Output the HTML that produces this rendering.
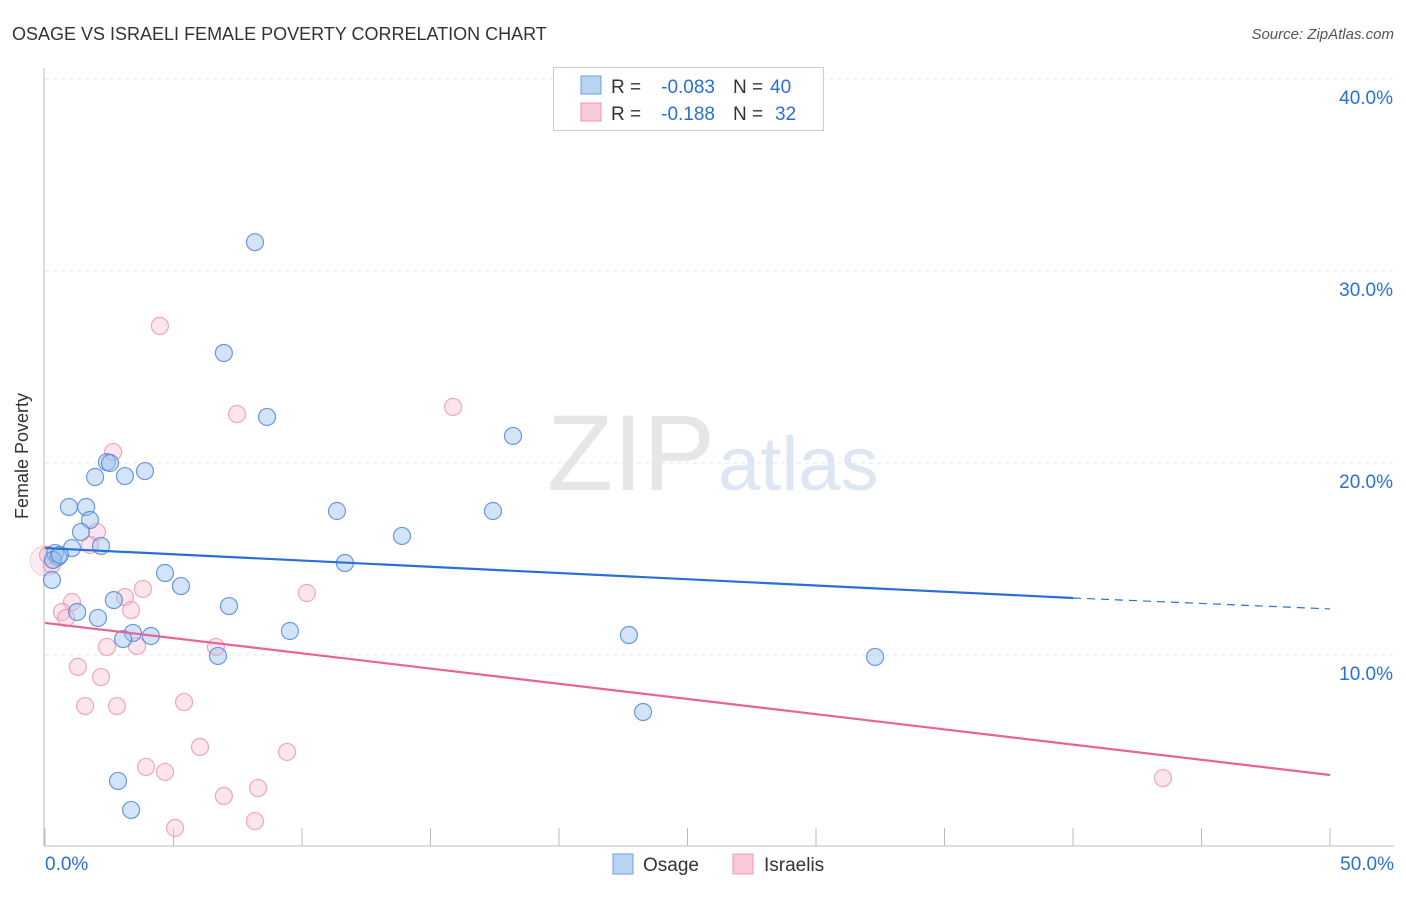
<!DOCTYPE html>
<html><head><meta charset="utf-8"><style>
body{margin:0;background:#fff;font-family:"Liberation Sans",sans-serif}
svg text{font-family:"Liberation Sans",sans-serif}
</style></head><body>
<svg id="chart" width="1406" height="892" xmlns="http://www.w3.org/2000/svg">
<text x="12" y="40" font-size="18" fill="#333">OSAGE VS ISRAELI FEMALE POVERTY CORRELATION CHART</text>
<text x="1394" y="39" font-size="15" fill="#555" text-anchor="end" font-style="italic">Source: ZipAtlas.com</text>
<g id="grid"></g>
<text x="715" y="490" font-size="108" fill="#e6e6e6" text-anchor="end" font-family="Liberation Serif">ZIP</text>
<text x="718" y="490" font-size="76" fill="#dde7f4">atlas</text>
<line x1="44" y1="68" x2="44" y2="846" stroke="#bbb"/>
<line x1="44" y1="846" x2="1394" y2="846" stroke="#bbb"/>
<text x="28" y="456" font-size="18" fill="#333" text-anchor="middle" transform="rotate(-90 28 456)">Female Poverty</text>
<g id="marks"></g>
<g>
<rect x="553.5" y="67.5" width="270" height="63" fill="#fff" stroke="#ccc"/>
<rect x="581" y="76" width="20" height="18" fill="#b9d3f3" stroke="#6e9fe0"/>
<rect x="581" y="103" width="20" height="18" fill="#f9c9d8" stroke="#eb96b1"/>
<text x="611" y="93" font-size="19" fill="#333">R =</text>
<text x="715" y="93" font-size="19" fill="#2a6fd6" text-anchor="end">-0.083</text>
<text x="733" y="93" font-size="19" fill="#333">N =</text>
<text x="770" y="93" font-size="19" fill="#2a6fd6">40</text>
<text x="611" y="120" font-size="19" fill="#333">R =</text>
<text x="715" y="120" font-size="19" fill="#2a6fd6" text-anchor="end">-0.188</text>
<text x="733" y="120" font-size="19" fill="#333">N =</text>
<text x="775" y="120" font-size="19" fill="#2a6fd6">32</text>
</g>
<g>
<rect x="613" y="854" width="20" height="20" fill="#b9d3f3" stroke="#6e9fe0"/>
<text x="643" y="871" font-size="19" fill="#333">Osage</text>
<rect x="733" y="854" width="20" height="20" fill="#f9c9d8" stroke="#eb96b1"/>
<text x="764" y="871" font-size="19" fill="#333">Israelis</text>
</g>
</svg>
<script>
const yTicks=[10,20,30,40];
const yTickLabels=["10.0%","20.0%","30.0%","40.0%"];
const xTicks=[0,5,10,15,20,25,30,35,40,45,50];
const osageX=[8.17,6.96,8.64,18.21,2.41,2.53,3.89,3.11,1.95,0.93,1.60,1.75,1.40,11.36,17.43,13.89,2.18,1.05,0.39,0.51,11.67,0.27,4.67,5.29,2.68,7.16,1.25,2.06,3.42,4.12,3.04,9.53,22.72,6.73,32.30,23.27,2.84,3.35,0.31,0.58];
const osageY=[31.5,25.73,22.4,21.41,20.05,20.0,19.58,19.32,19.27,17.71,17.71,17.03,16.41,17.5,17.5,16.2,15.68,15.57,15.31,15.1,14.79,13.91,14.27,13.59,12.86,12.55,12.24,11.93,11.15,10.99,10.83,11.25,11.04,9.95,9.9,7.03,3.44,1.93,14.95,15.21];
const israeliX=[4.47,7.47,15.88,2.65,2.02,1.75,0.12,0.27,1.05,0.66,0.82,3.11,3.35,3.81,10.19,2.41,3.58,6.65,1.28,2.18,1.56,2.8,5.41,6.03,9.42,3.93,4.67,6.96,8.29,8.17,5.06,43.5];
const israeliY=[27.14,22.55,22.92,20.57,16.41,15.73,15.21,14.69,12.76,12.24,11.93,13.02,12.34,13.44,13.23,10.42,10.47,10.42,9.38,8.85,7.34,7.34,7.55,5.21,4.95,4.17,3.91,2.66,3.07,1.35,0.99,3.59];
const osageTrend=[15.57,12.97,12.4];
const israeliTrend=[11.67,3.75];
const NS="http://www.w3.org/2000/svg";
const sx=v=>45+v*25.7, sy=v=>847-v*19.2;
function mk(t,a,p){const e=document.createElementNS(NS,t);for(const k in a)e.setAttribute(k,a[k]);p.appendChild(e);return e;}
const grid=document.getElementById('grid'), marks=document.getElementById('marks');
yTicks.forEach((v,i)=>{
 const l=mk('line',{x1:45,x2:1394,y1:sy(v),y2:sy(v),stroke:'#e4e4e4','stroke-dasharray':'4,4'},grid);
 
 
 const t=mk('text',{x:1393,y:sy(v)+25,'font-size':19,fill:'#2a6fd6','text-anchor':'end'},grid);
 t.textContent=yTickLabels[i];
 
 
});
xTicks.forEach(v=>{
 const l=mk('line',{x1:sx(v),x2:sx(v),y1:828,y2:846,stroke:'#bbb'},grid);
 
 
});
[[0,"0.0%",'start',45],[50,"50.0%",'end',1394]].forEach(d=>{
 const t=mk('text',{x:d[3],y:870,'font-size':19,fill:'#2a6fd6','text-anchor':d[2]},grid);
 t.textContent=d[1];
 
 
});
const big=mk('circle',{cx:sx(0),cy:sy(14.9),r:15,fill:'rgba(245,180,200,0.25)',stroke:'rgba(235,150,177,0.4)'},marks);


israeliX.forEach((x,i)=>{
 const c=mk('circle',{cx:sx(x),cy:sy(israeliY[i]),r:8.5,fill:'rgba(248,190,208,0.4)',stroke:'rgba(235,140,170,0.75)','stroke-width':1.2},marks);
 
 
});
osageX.forEach((x,i)=>{
 const c=mk('circle',{cx:sx(x),cy:sy(osageY[i]),r:8.5,fill:'rgba(160,195,240,0.45)',stroke:'rgba(70,130,215,0.8)','stroke-width':1.2},marks);
 
 
});
let l=mk('line',{x1:sx(0),y1:sy(osageTrend[0]),x2:sx(40),y2:sy(osageTrend[1]),stroke:'#2a6fd6','stroke-width':2.2},marks);


l=mk('line',{x1:sx(40),y1:sy(osageTrend[1]),x2:sx(50),y2:sy(osageTrend[2]),stroke:'#2a6fd6','stroke-width':1.2,'stroke-dasharray':'8,6'},marks);


l=mk('line',{x1:sx(0),y1:sy(israeliTrend[0]),x2:sx(50),y2:sy(israeliTrend[1]),stroke:'#e8639a','stroke-width':2.2},marks);


</script>
</body></html>
